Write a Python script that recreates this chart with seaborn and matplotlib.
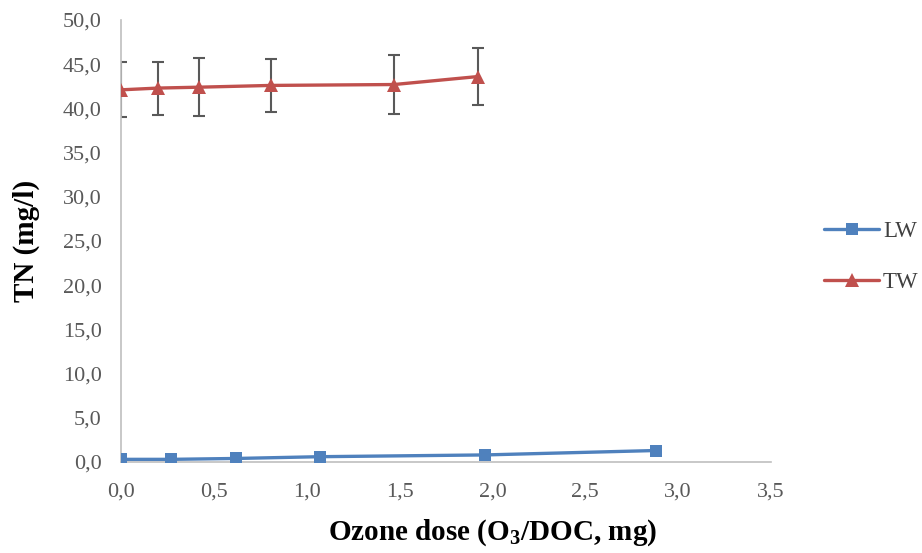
import matplotlib
matplotlib.use("Agg")
import matplotlib.pyplot as plt
from matplotlib.ticker import FuncFormatter, MultipleLocator
import seaborn as sns
import pandas as pd

# Data
lw_x = [0.0, 0.27, 0.62, 1.07, 1.96, 2.88]
lw_y = [0.3, 0.3, 0.4, 0.6, 0.8, 1.3]
tw_x = [0.0, 0.2, 0.42, 0.81, 1.47, 1.92]
tw_y = [42.1, 42.3, 42.4, 42.6, 42.7, 43.6]
tw_err = [3.1, 3.0, 3.3, 3.0, 3.35, 3.2]
series_names = ["LW", "TW"]

sns.set_theme(style="white")
plt.rcParams["font.family"] = ["Liberation Serif", "DejaVu Serif"]
plt.rcParams["mathtext.fontset"] = "custom"
plt.rcParams["mathtext.rm"] = "Liberation Serif"
plt.rcParams["mathtext.bf"] = "Liberation Serif:bold"

df = pd.DataFrame({
    "x": lw_x + tw_x,
    "y": lw_y + tw_y,
    "series": [series_names[0]] * len(lw_x) + [series_names[1]] * len(tw_x),
})

fig = plt.figure(figsize=(9.22, 5.53), dpi=100)
ax = fig.add_axes([121 / 922, 1 - 462 / 553, 650 / 922, 442 / 553])

ax.errorbar(tw_x, tw_y, yerr=tw_err, fmt="none", ecolor="#595959",
            elinewidth=1.5, capsize=4.5, capthick=1.5, zorder=2)

palette = {"LW": "#4F81BD", "TW": "#C0504D"}
sns.lineplot(data=df, x="x", y="y", hue="series", style="series",
             markers={"LW": "s", "TW": "^"}, dashes=False, sort=False,
             palette=palette, linewidth=2.4, markersize=8,
             markeredgewidth=0, ax=ax, zorder=3)
for ln in ax.lines:
    if ln.get_marker() == "^":
        ln.set_markersize(10.5)

ax.set_xlim(0, 3.5)
ax.set_ylim(0, 50)
ax.xaxis.set_major_locator(MultipleLocator(0.5))
ax.yaxis.set_major_locator(MultipleLocator(5))
fmt = FuncFormatter(lambda v, p: f"{v:.1f}".replace(".", ","))
ax.xaxis.set_major_formatter(fmt)
ax.yaxis.set_major_formatter(fmt)
ax.tick_params(axis="both", length=0, labelsize=16, labelcolor="#595959")
ax.tick_params(axis="y", pad=14)
ax.tick_params(axis="x", pad=15)

for s in ["top", "right"]:
    ax.spines[s].set_visible(False)
for s in ["left", "bottom"]:
    ax.spines[s].set_color("#BFBFBF")
    ax.spines[s].set_linewidth(1.2)

ax.set_xlabel(r"Ozone dose (O$_{\mathbf{3}}$/DOC, mg)", fontsize=21,
              fontweight="bold", color="black")
ax.xaxis.set_label_coords(0.571, -0.125)
ax.set_ylabel("TN (mg/l)", fontsize=21, fontweight="bold", color="black",
              labelpad=16)

leg = ax.legend(loc="center left", bbox_to_anchor=(1.068, 0.464),
                frameon=False, fontsize=16.5, handlelength=2.4,
                handletextpad=0.15, labelspacing=1.3, borderaxespad=0)
for t in leg.get_texts():
    t.set_color("#404040")
for h in leg.get_lines():
    if h.get_marker() == "^":
        h.set_markersize(10.5)

fig.savefig("out.png", dpi=100)
